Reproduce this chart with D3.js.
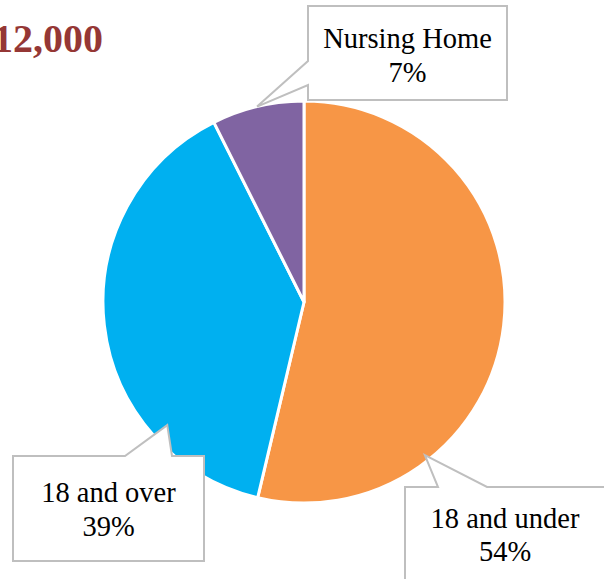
<!DOCTYPE html>
<html>
<head>
<meta charset="utf-8">
<script src="https://cdn.jsdelivr.net/npm/d3@7"></script>
<style>
  html, body { margin: 0; padding: 0; background: #fff; }
  svg { display: block; }
</style>
</head>
<body>
<svg id="chart" width="604" height="579"></svg>
<script>
// ---- data ----
const categories = ["18 and under", "18 and over", "Nursing Home"];
const shares = [53.7, 38.9, 7.4];
const percentLabels = ["54%", "39%", "7%"];
const colors = ["#F79646", "#00B0F0", "#8064A2"];
const titleText = "12,000";

// ---- layout ----
const W = 604, H = 579;
const cx = 304, cy = 302, R = 201;
const FONT = "'Liberation Serif', 'Times New Roman', serif";

// callout boxes: [x, y, w, h], pointer base on edge, tip angle(deg)/radius
const callouts = [
  { box: [405, 487, 200, 100], edge: "top", base: [438, 487], tip: { a: 141.7, r: 195 }, lines: [528, 561] },
  { box: [13, 456, 191, 105], edge: "top", base: [125, 172], tip: { a: 228, r: 184 }, lines: [502, 536] },
  { box: [308, 6, 199, 94], edge: "left", base: [61, 85], tip: { a: 346.5, r: 201 }, lines: [48, 82] }
];

const svg = d3.select("#chart");

// title
svg.append("text")
  .attr("x", 103).attr("y", 52)
  .attr("text-anchor", "end")
  .attr("font-family", FONT)
  .attr("font-weight", "bold")
  .attr("font-size", 40)
  .attr("fill", "#953735")
  .text(titleText);

// pie
const pie = d3.pie().sort(null).value(d => d)(shares);
const arc = d3.arc().innerRadius(0).outerRadius(R);
const g = svg.append("g").attr("transform", `translate(${cx},${cy})`);
g.selectAll("path").data(pie).join("path")
  .attr("d", arc)
  .attr("fill", (d, i) => colors[i])
  .attr("stroke", "#fff")
  .attr("stroke-width", 3)
  .attr("stroke-linejoin", "round");

// callouts
callouts.forEach((c, i) => {
  const [x, y, w, h] = c.box;
  const a = c.tip.a * Math.PI / 180;
  const tx = cx + c.tip.r * Math.sin(a), ty = cy - c.tip.r * Math.cos(a);
  let pts;
  if (c.edge === "top") {
    pts = [[x, y], [c.base[0], y], [tx, ty], [c.base[1], y], [x + w, y], [x + w, y + h], [x, y + h]];
  } else {
    pts = [[x, y], [x + w, y], [x + w, y + h], [x, y + h], [x, c.base[1]], [tx, ty], [x, c.base[0]]];
  }
  svg.append("path")
    .attr("d", d3.line()(pts) + "Z")
    .attr("fill", "#fff")
    .attr("stroke", "#BFBFBF")
    .attr("stroke-width", 2);
  const mx = x + w / 2;
  const t = svg.append("text")
    .attr("font-family", FONT)
    .attr("font-size", 28.5)
    .attr("fill", "#000")
    .attr("text-anchor", "middle");
  t.append("tspan").attr("x", mx).attr("y", c.lines[0]).text(categories[i]);
  t.append("tspan").attr("x", mx).attr("y", c.lines[1]).text(percentLabels[i]);
});
</script>
</body>
</html>
